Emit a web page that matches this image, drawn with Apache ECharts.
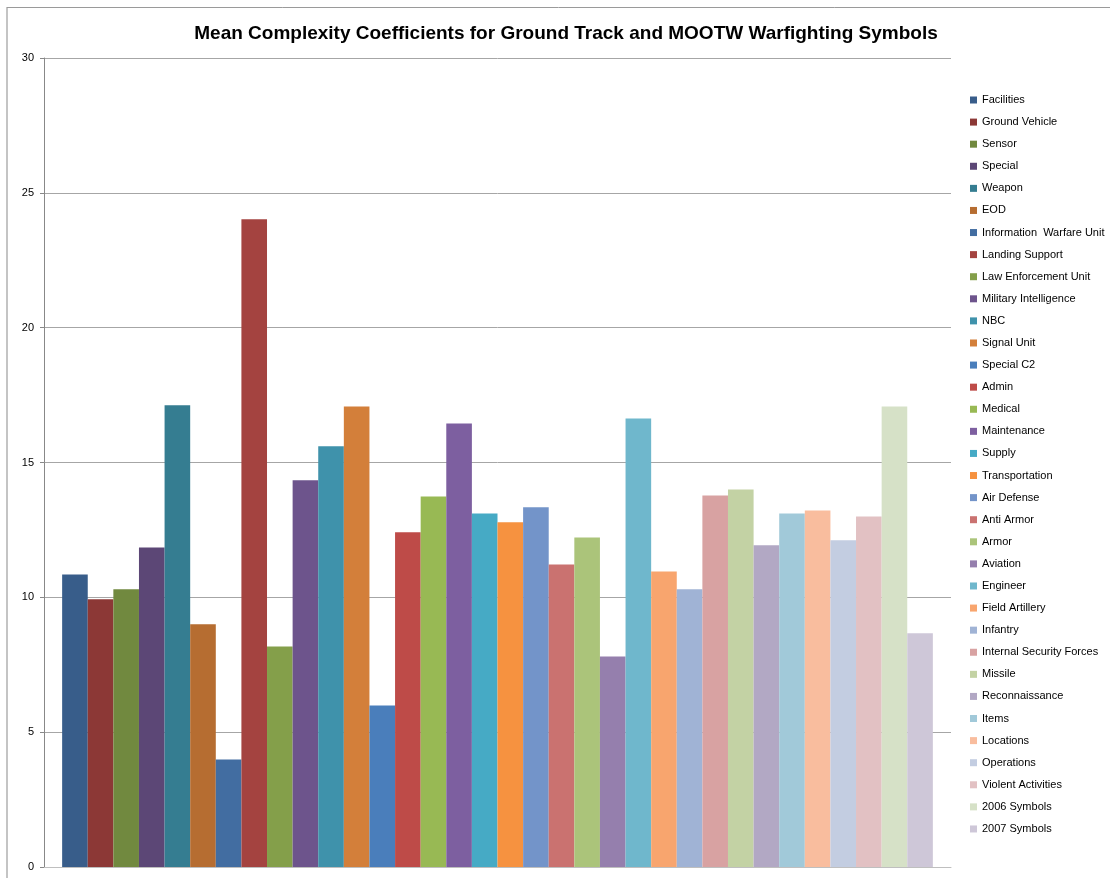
<!DOCTYPE html>
<html>
<head>
<meta charset="utf-8">
<script src="https://cdn.jsdelivr.net/npm/echarts@6/dist/echarts.min.js"></script>
<style>
html,body{margin:0;padding:0;background:#fff;}
#chart{width:1110px;height:878px;}
</style>
</head>
<body>
<div id="chart"></div>
<script>
const titleText = 'Mean Complexity Coefficients for Ground Track and MOOTW Warfighting Symbols';
const seriesNames = [
  'Facilities','Ground Vehicle','Sensor','Special','Weapon','EOD',
  'Information  Warfare Unit','Landing Support','Law Enforcement Unit','Military Intelligence',
  'NBC','Signal Unit','Special C2','Admin','Medical','Maintenance','Supply','Transportation',
  'Air Defense','Anti Armor','Armor','Aviation','Engineer','Field Artillery','Infantry',
  'Internal Security Forces','Missile','Reconnaissance','Items','Locations','Operations',
  'Violent Activities','2006 Symbols','2007 Symbols'
];
const seriesValues = [
  10.85, 9.93, 10.30, 11.85, 17.12, 9.00,
  3.99, 24.02, 8.18, 14.34,
  15.60, 17.08, 5.99, 12.41, 13.74, 16.45, 13.11, 12.78,
  13.34, 11.22, 12.22, 7.81, 16.63, 10.96, 10.30,
  13.78, 14.00, 11.93, 13.11, 13.22, 12.12,
  13.00, 17.08, 8.67
];
const seriesColors = [
  '#385D8A','#8C3836','#71893F','#5C4776','#357D91','#B66D31',
  '#426DA1','#A44340','#849F4A','#6D548C',
  '#3F92AB','#D37F3A','#4A7EBB','#BE4B48','#98B954','#7D5FA0','#46AAC5','#F69240',
  '#7394C9','#CA7270','#ABC47A','#957FAD','#6FB7CC','#F8A56E','#A0B3D5',
  '#D8A2A2','#C3D2A4','#B2A8C4','#A1C9D9','#F9BD9E','#C3CDE1',
  '#E2C1C3','#D6E1C7','#CEC7D8'
];
const yTicks = [0, 5, 10, 15, 20, 25, 30];

const chart = echarts.init(document.getElementById('chart'), null, {renderer: 'canvas'});
const series = seriesNames.map((name, i) => ({
  name: name,
  type: 'bar',
  data: [seriesValues[i]],
  barGap: '0%',
  barCategoryGap: '4%',
  itemStyle: {color: seriesColors[i]},
  emphasis: {disabled: true}
}));
chart.setOption({
  animation: false,
  backgroundColor: '#fff',
  title: {
    text: titleText,
    left: 561, top: 19,
    textAlign: 'center',
    textStyle: {fontFamily: 'Liberation Sans', fontWeight: 'bold', fontSize: 19, color: '#000'}
  },
  graphic: [
    {type: 'line', shape: {x1: 7, y1: 7, x2: 7, y2: 878}, style: {stroke: '#c4c4c4', lineWidth: 2}},
    {type: 'line', shape: {x1: 7, y1: 7.5, x2: 1110, y2: 7.5}, style: {stroke: '#9a9a9a', lineWidth: 1}}
  ],
  legend: {
    orient: 'vertical',
    left: 970, top: 93,
    padding: 0,
    itemWidth: 7, itemHeight: 7,
    itemGap: 8.09,
    icon: 'rect',
    textStyle: {fontFamily: 'Liberation Sans', fontSize: 11, color: '#000', lineHeight: 14},
    data: seriesNames
  },
  grid: {left: 44, top: 58, width: 907, height: 809, containLabel: false},
  xAxis: {
    type: 'category',
    data: [''],
    axisLine: {lineStyle: {color: '#bfbfbf', width: 1}},
    axisTick: {show: false},
    axisLabel: {show: false}
  },
  yAxis: {
    type: 'value',
    min: yTicks[0], max: yTicks[yTicks.length - 1], interval: 5,
    axisLine: {show: true, lineStyle: {color: '#888'}},
    axisTick: {show: true, length: 4, lineStyle: {color: '#888'}},
    axisLabel: {fontFamily: 'Liberation Sans', fontSize: 11, color: '#000', margin: 10},
    splitLine: {lineStyle: {color: '#a6a6a6', width: 1}}
  },
  series: series
});
</script>
</body>
</html>
